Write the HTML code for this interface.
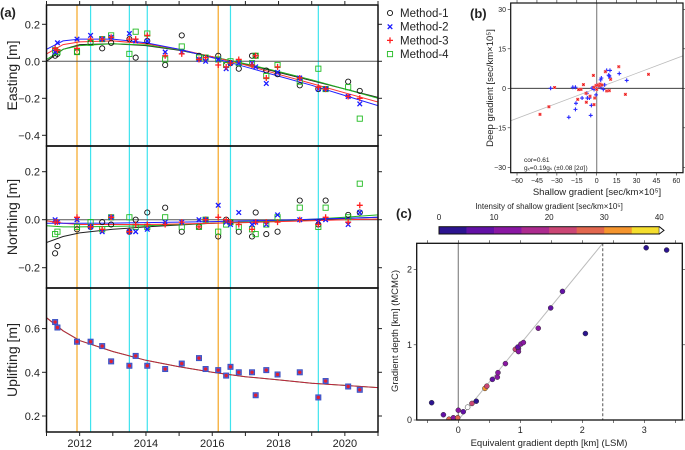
<!DOCTYPE html>
<html><head><meta charset="utf-8">
<style>
html,body{margin:0;padding:0;background:#fff;}
svg{display:block;font-family:"Liberation Sans",sans-serif;}
</style></head>
<body>
<svg id="fig" width="685" height="450" viewBox="0 0 685 450" xmlns="http://www.w3.org/2000/svg">
<defs>
<clipPath id="clipA1"><rect x="46.5" y="5" width="331.5" height="141"/></clipPath>
<clipPath id="clipA2"><rect x="46.5" y="146" width="331.5" height="142"/></clipPath>
<clipPath id="clipA3"><rect x="46.5" y="288" width="331.5" height="144"/></clipPath>
<clipPath id="clipB"><rect x="510.7" y="3" width="172.3" height="169.7"/></clipPath>
<clipPath id="clipC"><rect x="416.7" y="243.3" width="265.6" height="176.7"/></clipPath>
</defs>
</svg>
<script>
// ---------- Panel (a) data ----------
const epochs=[2011.26,2011.33,2011.92,2012.33,2012.68,2012.95,2013.5,2013.69,2014.04,2014.58,2015.08,2015.6,2015.8,2016.18,2016.42,2016.55,2016.8,2017.2,2017.31,2017.63,2017.97,2018.64,2019.2,2019.42,2020.1,2020.45];
const eastM1=[0.03,0.04,0.05,0.10,0.07,0.10,0.12,0.02,0.11,-0.02,0.14,0.03,0.02,0.03,-0.02,-0.01,-0.04,0.03,0.03,-0.05,-0.07,-0.13,-0.15,-0.15,-0.11,-0.16];
const eastM2=[0.05,0.10,0.12,0.14,0.12,0.13,0.15,0.11,0.11,0.05,0.05,0.01,0.0,0.01,-0.04,-0.01,-0.01,-0.01,-0.03,-0.12,-0.06,-0.09,-0.15,-0.15,-0.19,-0.23];
const eastM3=[0.07,0.06,0.07,0.12,0.12,0.13,0.12,0.12,0.14,0.03,0.04,0.01,0.02,-0.02,-0.03,-0.01,0.01,-0.02,0.03,-0.09,-0.03,-0.09,-0.14,-0.15,-0.19,-0.20];
const eastM4=[0.06,0.05,0.05,0.10,0.12,0.14,0.04,0.16,0.15,0.01,0.08,0.02,0.02,0.01,-0.02,0.0,-0.01,-0.01,0.03,-0.08,-0.02,-0.11,-0.04,-0.15,-0.14,-0.31];
const northM1=[-0.14,-0.11,-0.04,-0.03,-0.01,-0.02,-0.05,0.0,0.03,0.05,-0.05,-0.03,0.0,-0.07,0.0,-0.01,-0.05,-0.07,0.03,-0.06,-0.05,0.08,-0.02,0.08,0.02,0.03];
const northM2=[0.0,-0.01,0.0,-0.03,-0.05,0.01,-0.05,-0.05,-0.04,-0.01,-0.01,0.0,0.0,0.06,-0.01,-0.02,0.03,-0.02,-0.01,-0.02,0.02,0.0,-0.01,0.0,-0.02,0.03];
const northM3=[-0.01,-0.01,0.01,-0.03,-0.04,0.01,-0.05,-0.02,-0.02,-0.02,-0.01,-0.03,0.0,0.01,0.0,-0.01,-0.02,-0.04,-0.01,-0.01,-0.01,0.0,-0.02,0.01,-0.01,0.06];
const northM4=[-0.06,-0.05,-0.03,-0.01,-0.04,0.01,0.01,-0.03,-0.03,0.01,-0.03,-0.03,0.0,-0.05,-0.02,-0.01,-0.03,-0.04,-0.06,-0.02,0.01,0.05,-0.03,0.05,0.01,0.15];
const upl=[0.63,0.605,0.54,0.54,0.52,0.45,0.43,0.475,0.43,0.415,0.44,0.465,0.415,0.41,0.385,0.425,0.40,0.40,0.295,0.41,0.39,0.40,0.285,0.36,0.335,0.32];
const curveYears=[2011,2011.5,2012,2013,2014,2015,2016,2017,2018,2019,2020,2021];
const eastFitM1=[0.0,0.065,0.09,0.095,0.085,0.06,0.025,-0.015,-0.06,-0.105,-0.15,-0.195];
const eastFitM2=[0.065,0.11,0.12,0.12,0.10,0.065,0.02,-0.03,-0.08,-0.13,-0.185,-0.24];
const eastFitM3=[0.04,0.09,0.105,0.11,0.095,0.065,0.025,-0.02,-0.07,-0.12,-0.17,-0.22];
const eastFitM4=[0.01,0.065,0.085,0.095,0.088,0.062,0.025,-0.013,-0.055,-0.10,-0.15,-0.20];
const northFitM1=[-0.095,-0.07,-0.055,-0.04,-0.03,-0.022,-0.015,-0.01,-0.005,0.0,0.005,0.01];
const northFitM2=[-0.015,-0.015,-0.015,-0.014,-0.012,-0.01,-0.008,-0.005,-0.002,0.002,0.006,0.01];
const northFitM3=[-0.005,-0.015,-0.02,-0.02,-0.02,-0.018,-0.015,-0.012,-0.008,-0.004,0.0,0.003];
const northFitM4=[-0.025,-0.03,-0.03,-0.028,-0.025,-0.02,-0.015,-0.01,-0.005,0.002,0.01,0.02];
const uplFit=[0.65,0.59,0.545,0.495,0.455,0.425,0.40,0.38,0.365,0.35,0.34,0.33];
const orangeEvents=[2011.92,2016.18];
const cyanEvents=[2012.33,2013.5,2014.04,2016.55,2019.2];
const yearTicks=[2012,2014,2016,2018,2020];
const eastTicks=[0.2,0.0,-0.2,-0.4];
const northTicks=[0.2,0.0,-0.2];
const uplTicks=[0.6,0.4,0.2];
// ---------- Panel (b) data ----------
const bBlueX=[-34.7,-18,-16,-15.6,-16,-21,-11,-7.5,-7,-5.5,-4,-4.5,-3.5,-2,-0.5,0,3,3.5,5,6,7.5,10,9.5,10,9,17,22.6,2.8];
const bBlueY=[0,0.4,0.4,-5.7,-8,-11,-3.7,-1.9,-3.7,-3.7,-6.5,-10.3,0.1,-0.4,-2.5,1.1,3.2,3.9,-0.4,1.3,6.8,6.8,4.7,3.9,5,5.6,3.0,0.4];
const bRedX=[-31.7,-36,-42.7,-13.6,-11.8,-10,-14.3,-7.8,-8,-5,-2.5,-2,-2,-1.5,-0.5,1,2.5,2,4,6.5,7.5,9.5,10.5,16.6,21.6,39,0];
const bRedY=[0.3,-7,-9.9,-0.5,-0.4,1.4,-4.2,-5.3,-1.9,-3,4.9,-6.2,0.4,-3.7,1.1,1.3,1.6,0.9,1.3,6.3,-1,-0.9,3.4,8.2,-2.3,5.3,-0.4];
const bSlope=[0.19];
const bXTicks=[-60,-45,-30,-15,0,15,30,45,60];
const bYTicks=[30,15,0,-15,-30];
// ---------- Panel (c) data ----------
const cLSM=[-0.43,-0.24,-0.15,-0.08,-0.01,0,0.08,0.15,0.22,0.29,0.43,0.46,0.55,0.63,0.64,0.76,0.92,0.97,0.97,0.96,1.01,1.05,1.29,1.49,1.68,2.05,3.03,3.36];
const cMCMC=[0.23,0.07,0.01,0.03,0.03,0.13,0.11,0.17,0.22,0.25,0.42,0.45,0.54,0.57,0.63,0.75,0.94,0.95,0.91,0.97,1.01,1.03,1.22,1.49,1.71,1.15,2.29,2.26];
const cIntensity=[3,7,28,12,28,12,7,-1,22,3,33,22,7,12,12,12,22,12,12,7,12,12,12,7,7,3,3,3];
const cbTicks=[0,10,20,30,40];
const cXTicks=[0,1,2,3];
const cYTicks=[0,1,2];
const cbColors=['#2c1490','#6311a6','#8a17a3','#ad2b8f','#cb4675','#e2674f','#f5952e','#f5de2e'];

const svg=document.getElementById('fig');
const NS='http://www.w3.org/2000/svg';
function mk(tag,attrs,parent){const e=document.createElementNS(NS,tag);for(const k in attrs)e.setAttribute(k,attrs[k]);(parent||svg).appendChild(e);return e;}
function txt(x,y,s,size,anchor,parent,extra){const t=mk('text',Object.assign({x:x,y:y,'font-size':size,'text-anchor':anchor||'middle',fill:'#222'},extra||{}),parent);t.textContent=s;return t;}

const ax=t=>46.5+(t-2011)*33.15;
const eY=v=>61.3-v*185;
const nY=v=>219.7-v*240;
const uY=v=>372.3-(v-0.4)*218.5;

function panelA(top,bot,clip,yfn,ticks,title,name){
  const g=mk('g',{});
  
  
  const inner=mk('g',{'clip-path':'url(#'+clip+')'},g);
  orangeEvents.forEach(t=>{const l=mk('line',{x1:ax(t),x2:ax(t),y1:top,y2:bot,stroke:'#f5a623','stroke-width':1.2},inner);
    
    });
  cyanEvents.forEach(t=>{const l=mk('line',{x1:ax(t),x2:ax(t),y1:top,y2:bot,stroke:'#3fe3ee','stroke-width':1.2},inner);
    
    });
  ticks.forEach(v=>{
    const tl=txt(40,yfn(v)+4,(v<0?'\u2212':'')+Math.abs(v).toFixed(1),11,'end',g);
    
    
    mk('line',{x1:42,x2:46.5,y1:yfn(v),y2:yfn(v),stroke:'#222'},g);
    mk('line',{x1:378,x2:382,y1:yfn(v),y2:yfn(v),stroke:'#222'},g);
  });
  const at=txt(0,0,title,14,'middle',g,{transform:'translate(17,'+((top+bot)/2)+') rotate(-90)'});
  
  
  return {g:g,inner:inner};
}
const A1=panelA(5,146,'clipA1',eY,eastTicks,'Easting [m]','easting-panel');
const A2=panelA(146,288,'clipA2',nY,northTicks,'Northing [m]','northing-panel');
const A3=panelA(288,432,'clipA3',uY,uplTicks,'Uplifting [m]','uplifting-panel');
[[A1,eY],[A2,nY]].forEach(([P,f])=>{const l=mk('line',{x1:46.5,x2:378,y1:f(0),y2:f(0),stroke:'#555','stroke-width':1},P.inner);
  
  });

function curve(P,yfn,vals,color,name){
  const d=curveYears.map((t,i)=>(i?'L':'M')+ax(t).toFixed(1)+','+yfn(vals[i]).toFixed(1)).join('');
  const p=mk('path',{d:d,fill:'none',stroke:color,'stroke-width':1},P.inner);
  
  
}
curve(A1,eY,eastFitM1,'#222','fit-method-1');curve(A1,eY,eastFitM4,'#1fb31f','fit-method-4');curve(A1,eY,eastFitM3,'#ff3030','fit-method-3');curve(A1,eY,eastFitM2,'#2020ff','fit-method-2');
curve(A2,nY,northFitM1,'#222','fit-method-1');curve(A2,nY,northFitM4,'#1fb31f','fit-method-4');curve(A2,nY,northFitM3,'#ff3030','fit-method-3');curve(A2,nY,northFitM2,'#2020ff','fit-method-2');
curve(A3,uY,uplFit,'#1fb31f','fit-method-4');curve(A3,uY,uplFit.map(v=>v),'#c02040','fit-method-3');

function sym(kind,x,y,parent){
  let e;
  if(kind===1){e=mk('circle',{cx:x,cy:y,r:2.6,fill:'none',stroke:'#111','stroke-width':0.9},parent);}
  else if(kind===2){e=mk('path',{d:`M${x-2.3},${y-2.3}L${x+2.3},${y+2.3}M${x-2.3},${y+2.3}L${x+2.3},${y-2.3}`,stroke:'#1a1aff','stroke-width':1.3},parent);}
  else if(kind===3){e=mk('path',{d:`M${x-3},${y}L${x+3},${y}M${x},${y-3}L${x},${y+3}`,stroke:'#ff2020','stroke-width':1.3},parent);}
  else {e=mk('rect',{x:x-2.6,y:y-2.6,width:5.2,height:5.2,fill:'none',stroke:'#22bb22','stroke-width':0.9},parent);}
  return e;
}
function series(P,yfn,vals,kind,name){
  vals.forEach((v,i)=>{const e=sym(kind,ax(epochs[i]),yfn(v),P.inner);
    
    });
}
series(A1,eY,eastM1,1,'easting-method-1-point');series(A1,eY,eastM4,4,'easting-method-4-point');series(A1,eY,eastM2,2,'easting-method-2-point');series(A1,eY,eastM3,3,'easting-method-3-point');
series(A2,nY,northM1,1,'northing-method-1-point');series(A2,nY,northM4,4,'northing-method-4-point');series(A2,nY,northM2,2,'northing-method-2-point');series(A2,nY,northM3,3,'northing-method-3-point');
upl.forEach((v,i)=>{
  const x=ax(epochs[i]),y=uY(v);
  const s=mk('rect',{x:x-2.6,y:y-2.6,width:5.2,height:5.2,fill:'#5060d8',stroke:'#3a50c0','stroke-width':0.8},A3.inner);
  
  
  const c=mk('circle',{cx:x,cy:y,r:1.7,fill:'#e02030'},A3.inner);
  
  
});
[[5,146],[146,288],[288,432]].forEach(([t,b])=>{mk('rect',{x:46.5,y:t,width:331.5,height:b-t,fill:'none',stroke:'#111','stroke-width':1.5});});
for(let yr=2011;yr<=2021;yr++){mk('line',{x1:ax(yr),x2:ax(yr),y1:1,y2:5,stroke:'#222'});mk('line',{x1:ax(yr),x2:ax(yr),y1:432,y2:436,stroke:'#222'});}
yearTicks.forEach(yr=>{const t=txt(ax(yr),447,String(yr),11,'middle');
  
  });
const la=txt(0,17,'(a)',13,'start',svg,{'font-weight':'bold'});


['Method-1','Method-2','Method-3','Method-4'].forEach((n,i)=>{
  const y=13+i*13.7;
  const g=mk('g',{});
  
  
  sym(i+1,390,y,g);
  txt(400,y+4,n,11.5,'start',g);
});

// ---------- Panel (b)
const bx=v=>596.7+v*1.328, by=v=>88.3-v*2.633;
const gb=mk('g',{});


const gbi=mk('g',{'clip-path':'url(#clipB)'},gb);
const rl=mk('line',{x1:bx(-65),y1:by(-65*bSlope[0]),x2:bx(65),y2:by(65*bSlope[0]),stroke:'#bbb','stroke-width':0.8},gbi);


mk('line',{x1:bx(0),x2:bx(0),y1:3,y2:172.7,stroke:'#888','stroke-width':1.2},gbi);
mk('line',{x1:510.7,x2:683,y1:by(0),y2:by(0),stroke:'#222','stroke-width':0.9},gbi);
bBlueX.forEach((v,i)=>{const x=bx(v),y=by(bBlueY[i]);
  const e=mk('path',{d:`M${x-2},${y}L${x+2},${y}M${x},${y-2}L${x},${y+2}`,stroke:'#2a2aff','stroke-width':1.1},gbi);
  
  });
bRedX.forEach((v,i)=>{const x=bx(v),y=by(bRedY[i]);
  const e=mk('g',{},gbi);
  
  
  mk('rect',{x:x-1.3,y:y-1.3,width:2.6,height:2.6,fill:'#ffb0b0',stroke:'#ff5050','stroke-width':0.4},e);
  mk('path',{d:`M${x-1},${y-1}L${x+1},${y+1}M${x-1},${y+1}L${x+1},${y-1}`,stroke:'#e00000','stroke-width':0.6},e);});
mk('rect',{x:510.7,y:3,width:172.3,height:169.7,fill:'none',stroke:'#111','stroke-width':1.2},gb);
bXTicks.forEach(v=>{mk('line',{x1:bx(v),x2:bx(v),y1:172.7,y2:175.5,stroke:'#222','stroke-width':0.6},gb);mk('line',{x1:bx(v),x2:bx(v),y1:0,y2:3,stroke:'#222','stroke-width':0.6},gb);
  const t=txt(bx(v),183,v<0?'\u2212'+(-v):String(v),7,'middle',gb);
  
  });
bYTicks.forEach(v=>{mk('line',{x1:507.7,x2:510.7,y1:by(v),y2:by(v),stroke:'#222','stroke-width':0.6},gb);mk('line',{x1:683,x2:685,y1:by(v),y2:by(v),stroke:'#222','stroke-width':0.6},gb);
  const t=txt(506,by(v)+2.5,v<0?'\u2212'+(-v):String(v),7,'end',gb);
  
  });
const bxt=txt(597,195,'Shallow gradient [sec/km\u00d710\u2075]',9.5,'middle',gb);


const byt=txt(0,0,'Deep gradient [sec/km\u00d710\u2075]',9.5,'middle',gb,{transform:'translate(493,88) rotate(-90)'});


const an1=txt(524,162,'cor=0.61',6.5,'start',gb);


const an2=txt(524,170,'g\u2093=0.19g\u209b (\u00b10.08 [2\u03c3])',6.5,'start',gb);


const lb=txt(470,18,'(b)',13,'start',svg,{'font-weight':'bold'});



// ---------- Panel (c)
const cx=v=>458.3+v*62, cy=v=>420-v*75.2;
const gc=mk('g',{});


const cbx=v=>439+v*(220.3/40);
cbColors.forEach((c,i)=>{const r=mk('rect',{x:cbx(i*5),y:226.7,width:220.3/8+0.3,height:7.3,fill:c},gc);
  
  });
mk('rect',{x:439,y:226.7,width:220.3,height:7.3,fill:'none',stroke:'#111','stroke-width':1},gc);
mk('path',{d:'M659.3,226.7L664,230.35L659.3,234',fill:'#fff',stroke:'#111','stroke-width':1},gc);
cbTicks.forEach(v=>{const t=txt(cbx(v),220,String(v),8,'middle',gc);
  
  });
const cbt=txt(549,209,'Intensity of shallow gradient [sec/km\u00d710\u2075]',8,'middle',gc);


const gci=mk('g',{'clip-path':'url(#clipC)'},gc);
mk('line',{x1:cx(0),x2:cx(0),y1:243.3,y2:420,stroke:'#888','stroke-width':1.2},gci);
const dl=mk('line',{x1:cx(0),y1:cy(0),x2:cx(2.4),y2:cy(2.42),stroke:'#bbb','stroke-width':1},gci);


const dsh=mk('line',{x1:cx(2.33),x2:cx(2.33),y1:243.3,y2:420,stroke:'#555','stroke-width':1,'stroke-dasharray':'3,2'},gci);


cLSM.forEach((v,i)=>{const k=cIntensity[i];
  const fill=k<0?'#fff':cbColors[Math.min(7,Math.floor(k/5))];
  const c=mk('circle',{cx:cx(v),cy:cy(cMCMC[i]),r:2.5,fill:fill,stroke:'#333','stroke-width':0.5},gci);
  
  });
mk('rect',{x:416.7,y:243.3,width:265.6,height:176.7,fill:'none',stroke:'#111','stroke-width':1.3},gc);
[-0.5,0,0.5,1,1.5,2,2.5,3,3.5].forEach(v=>{mk('line',{x1:cx(v),x2:cx(v),y1:420,y2:423,stroke:'#222','stroke-width':0.6},gc);mk('line',{x1:cx(v),x2:cx(v),y1:240.3,y2:243.3,stroke:'#222','stroke-width':0.6},gc);});
cXTicks.forEach(v=>{const t=txt(cx(v),433,String(v),9,'middle',gc);
  
  });
cYTicks.forEach(v=>{mk('line',{x1:413.7,x2:416.7,y1:cy(v),y2:cy(v),stroke:'#222','stroke-width':0.6},gc);mk('line',{x1:682.3,x2:685,y1:cy(v),y2:cy(v),stroke:'#222','stroke-width':0.6},gc);
  const t=txt(412,cy(v)+3,String(v),9,'end',gc);
  
  });
const cxt=txt(549,446,'Equivalent gradient depth [km] (LSM)',9.5,'middle',gc);


const cyt=txt(0,0,'Gradient depth [km] (MCMC)',9.5,'middle',gc,{transform:'translate(398,331) rotate(-90)'});


const lc=txt(396,218,'(c)',13,'start',svg,{'font-weight':'bold'});


</script>
</body></html>
